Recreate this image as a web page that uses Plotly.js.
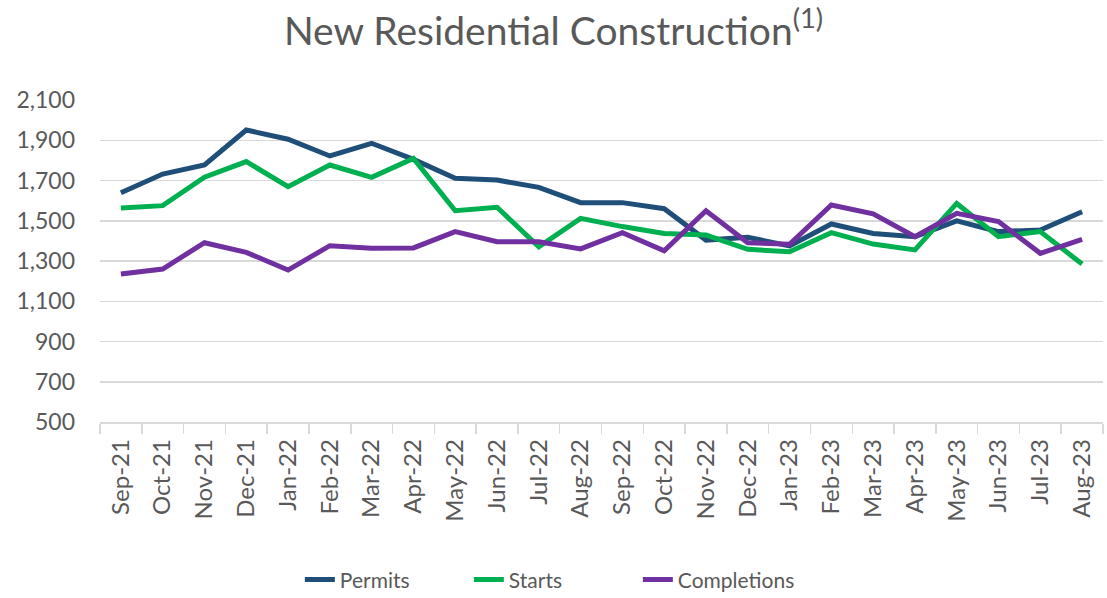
<!DOCTYPE html>
<html>
<head>
<meta charset="utf-8">
<script src="https://cdn.plot.ly/plotly-3.0.1.min.js"></script>
<style>html,body{margin:0;padding:0;background:#fff;}#chart{width:1107px;height:598px;}</style>
</head>
<body>
<div id="chart"></div>
<script>
var months = ["Sep-21","Oct-21","Nov-21","Dec-21","Jan-22","Feb-22","Mar-22","Apr-22","May-22","Jun-22","Jul-22","Aug-22","Sep-22","Oct-22","Nov-22","Dec-22","Jan-23","Feb-23","Mar-23","Apr-23","May-23","Jun-23","Jul-23","Aug-23"];
var permits = [1639,1732,1777,1951,1905,1822,1885,1805,1711,1702,1666,1590,1590,1560,1404,1418,1375,1484,1437,1421,1499,1446,1454,1545];
var starts = [1563,1575,1716,1794,1669,1777,1716,1810,1550,1567,1371,1512,1471,1437,1429,1358,1346,1441,1384,1355,1586,1421,1446,1285];
var completions = [1235,1260,1391,1343,1255,1376,1363,1365,1446,1396,1396,1360,1441,1351,1550,1391,1383,1578,1534,1421,1537,1496,1338,1408];
var yTicks = [500,700,900,1100,1300,1500,1700,1900,2100];

var font = "Lato, 'Open Sans', sans-serif";
function tr(name, y, color){
  return {type:'scatter', mode:'lines', name:name, x:months, y:y,
    line:{color:color, width:5, shape:'linear'}, hoverinfo:'skip'};
}
var data = [
  tr('Permits', permits, '#1f4e79'),
  tr('Starts', starts, '#00b050'),
  tr('Completions', completions, '#7030a0')
];
var layout = {
  width:1107, height:598,
  margin:{l:100, r:4, t:100, b:176, autoexpand:false},
  paper_bgcolor:'#ffffff', plot_bgcolor:'#ffffff',
  font:{family:font, color:'#595959', size:18},
  title:{text:'New Residential Construction<sup>(1)</sup>', x:0.5, xref:'container', xanchor:'center',
    y:0.948, yref:'container', yanchor:'middle', automargin:false,
    font:{family:font, size:39, color:'#595959'}},
  xaxis:{type:'category', categoryorder:'array', categoryarray:months, range:[-0.5,23.5],
    tickangle:-90, ticks:'outside', tickson:'boundaries', ticklen:10, tickcolor:'#d9d9d9', tickwidth:1.5,
    ticklabelstandoff:6, automargin:false,
    showline:true, linecolor:'#d9d9d9', linewidth:1.5, showgrid:false, zeroline:false,
    tickfont:{size:24, color:'#595959', family:font}, fixedrange:true},
  yaxis:{range:[500,2100], tickvals:yTicks, tickformat:',d', showgrid:true, gridcolor:'#d9d9d9', gridwidth:1.5,
    zeroline:false, showline:false, ticks:'', ticklabelstandoff:24, automargin:false,
    tickfont:{size:23, color:'#595959', family:font}, fixedrange:true},
  showlegend:true,
  legend:{orientation:'h', x:0.452, xanchor:'center', y:-0.49, yanchor:'middle',
    entrywidth:124, entrywidthmode:'pixels',
    font:{size:21, color:'#595959', family:font}, traceorder:'normal'}
};
Plotly.newPlot('chart', data, layout, {displayModeBar:false, staticPlot:true});
</script>
</body>
</html>
